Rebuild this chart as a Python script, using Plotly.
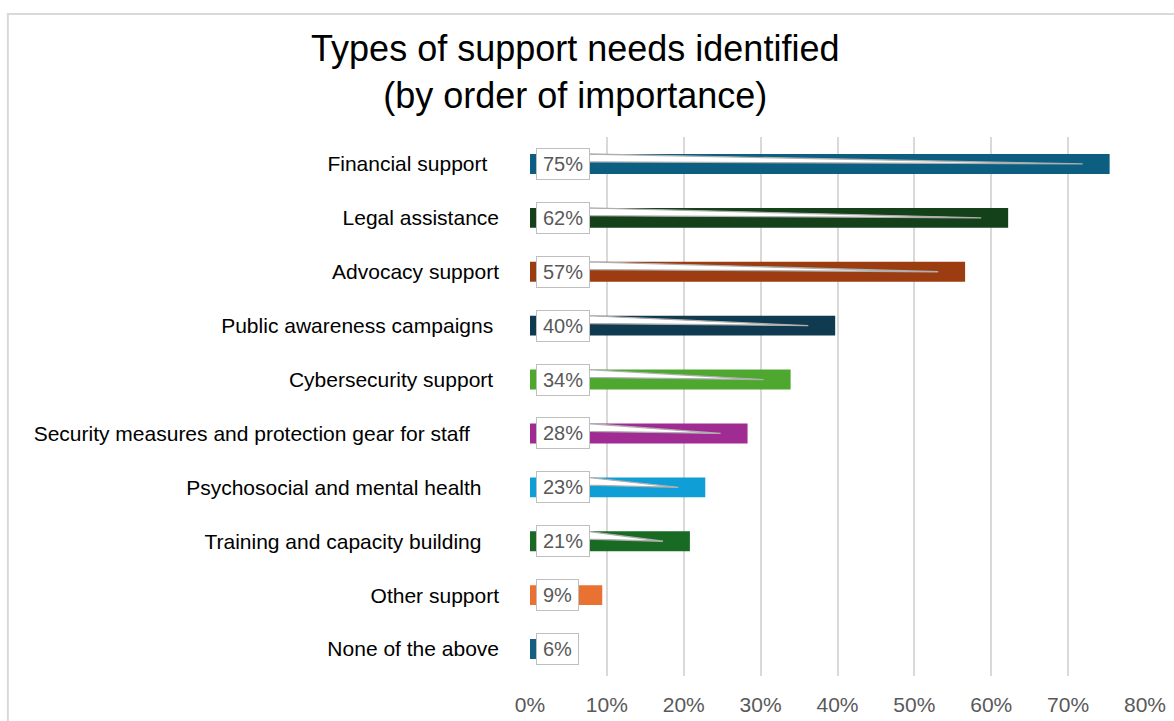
import plotly.graph_objects as go

categories = [
    "Financial support",
    "Legal assistance",
    "Advocacy support",
    "Public awareness campaigns",
    "Cybersecurity support",
    "Security measures and protection gear for staff",
    "Psychosocial and mental health",
    "Training and capacity building",
    "Other support",
    "None of the above",
]
values = [75.4, 62.2, 56.6, 39.7, 33.9, 28.3, 22.8, 20.8, 9.4, 6.0]
colors = ["#0C5F80", "#14401A", "#9C3D11", "#0F3A50", "#4EA72E",
          "#A02B93", "#0F9ED5", "#196B24", "#E97132", "#156082"]
trailing_spaces = [2, 0, 0, 1, 1, 5, 3, 3, 0, 0]
x_ticks = [0, 10, 20, 30, 40, 50, 60, 70, 80]

positions = list(range(len(categories)))
tick_text = [c + "\u00a0" * n for c, n in zip(categories, trailing_spaces)]

fig = go.Figure()
fig.add_trace(go.Bar(
    x=values, y=positions, orientation="h", width=0.37,
    marker=dict(color=colors, line=dict(width=0)),
    hoverinfo="skip", showlegend=False,
))

BOX_RIGHT = 7.5   # data units where label box ends
TIP_BACK = 3.5    # callout tip sits a bit before bar end
for i, v in zip(positions, values):
    tip = v - TIP_BACK
    if tip > BOX_RIGHT:
        fig.add_shape(
            type="path", xref="x", yref="y", layer="above",
            path=f"M {BOX_RIGHT},{i-0.185} L {tip},{i} L {BOX_RIGHT},{i-0.04} Z",
            fillcolor="white", line=dict(color="#AFAFAF", width=1.3),
        )
    fig.add_annotation(
        x=0, y=i, xref="x", yref="y", xanchor="left", yanchor="middle",
        xshift=6, text=f"{round(v)}%", showarrow=False,
        font=dict(family="Liberation Sans, Arial", size=20, color="#595959"),
        bgcolor="white", bordercolor="#BFBFBF", borderwidth=1, borderpad=6,
        height=18,
    )

# outer chart border (cropped at right/bottom like the reference)
fig.add_shape(type="rect", xref="paper", yref="paper",
              x0=-0.849, x1=1.2, y0=-0.3, y1=1.228,
              line=dict(color="#D9D9D9", width=2), fillcolor="rgba(0,0,0,0)",
              layer="below")

fig.update_layout(
    width=1174, height=721,
    margin=dict(l=530, r=29, t=137, b=45, autoexpand=False),
    paper_bgcolor="white", plot_bgcolor="white",
    font=dict(family="Liberation Sans, Arial", color="#000000"),
    title=dict(
        text="Types of support needs identified<br>(by order of importance)",
        x=0.49, xref="container", xanchor="center",
        y=0.915, yref="container", yanchor="top",
        font=dict(family="Liberation Sans, Arial", size=36, color="#000000"),
        automargin=False,
    ),
    xaxis=dict(
        range=[0, 80], tickvals=x_ticks, ticktext=[f"{t}%" for t in x_ticks],
        showgrid=True, gridcolor="#D9D9D9", gridwidth=1.5,
        zeroline=False, showline=False, ticks="",
        tickfont=dict(family="Liberation Sans, Arial", size=21, color="#595959"),
        ticklabelstandoff=14, fixedrange=True, automargin=False,
    ),
    yaxis=dict(
        range=[9.5, -0.5], tickvals=positions, ticktext=tick_text,
        showgrid=False, zeroline=False, showline=False, ticks="",
        tickfont=dict(family="Liberation Sans, Arial", size=21, color="#000000"),
        ticklabelstandoff=30, fixedrange=True, automargin=False,
    ),
    bargap=0.6,
)

fig.write_html("out.html")
